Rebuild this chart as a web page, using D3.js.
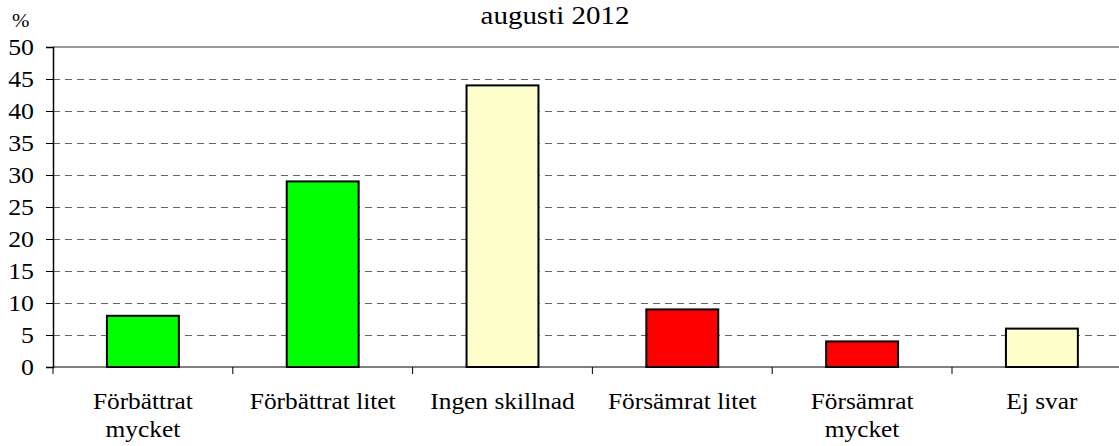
<!DOCTYPE html>
<html>
<head>
<meta charset="utf-8">
<script src="https://cdn.jsdelivr.net/npm/d3@7"></script>
<style>
  body { margin: 0; background: #fff; }
</style>
</head>
<body>
<div id="chart"></div>
<script>
var categories = [["Förbättrat", "mycket"], ["Förbättrat litet"], ["Ingen skillnad"], ["Försämrat litet"], ["Försämrat", "mycket"], ["Ej svar"]];
var values = [8, 29, 44, 9, 4, 6];
var colors = ["#00ff00", "#00ff00", "#ffffcc", "#ff0000", "#ff0000", "#ffffcc"];
var yTicks = [0, 5, 10, 15, 20, 25, 30, 35, 40, 45, 50];

var font = "Liberation Serif";
var sx = 1.08; // the original text is a bit wider than it is tall

function drawChart() {
    var width = 1119, height = 446;
    var plotLeft = 53, plotTop = 47, plotBottom = 367, bandW = 179.8;

    var svg = d3.select("#chart")
        .append("svg")
        .attr("width", width)
        .attr("height", height)
        .attr("font-family", font);

    var x = d3.scaleBand()
        .domain(d3.range(categories.length))
        .range([plotLeft, plotLeft + bandW * categories.length])
        .paddingInner(0.6)
        .paddingOuter(0.3);

    var y = d3.scaleLinear()
        .domain([0, 50])
        .range([plotBottom, plotTop]);

    // gridlines
    svg.selectAll(".grid")
        .data(yTicks.filter(function(d) { return d > 0 && d < 50; }))
        .enter()
        .append("line")
        .attr("x1", plotLeft)
        .attr("x2", width)
        .attr("y1", function(d) { return y(d) + 0.5; })
        .attr("y2", function(d) { return y(d) + 0.5; })
        .attr("stroke", "#666")
        .attr("stroke-width", 1)
        .attr("stroke-dasharray", "7,5");

    svg.append("line")
        .attr("x1", plotLeft).attr("x2", width)
        .attr("y1", y(50)).attr("y2", y(50))
        .attr("stroke", "#999")
        .attr("stroke-width", 2);

    // bars
    svg.selectAll(".bar")
        .data(values)
        .enter()
        .append("rect")
        .attr("x", function(d, i) { return x(i); })
        .attr("y", function(d) { return y(d); })
        .attr("width", x.bandwidth())
        .attr("height", function(d) { return y(0) - y(d); })
        .attr("fill", function(d, i) { return colors[i]; })
        .attr("stroke", "#000")
        .attr("stroke-width", 2);

    // y axis
    var yAxis = d3.axisLeft(y).tickValues(yTicks).tickSize(7).tickPadding(12);
    var gy = svg.append("g").attr("transform", "translate(" + plotLeft + ",0)").call(yAxis);
    gy.attr("font-family", font).attr("font-size", null);
    gy.select(".domain").attr("stroke", "#000").attr("stroke-width", 1.5);
    gy.selectAll(".tick line").attr("stroke", "#000");
    gy.selectAll(".tick text")
        .attr("x", -19 / 1.1)
        .attr("dy", "0.33em")
        .attr("transform", "scale(1.1,1)")
        .attr("font-family", font)
        .attr("font-size", "23.5px")
        .attr("fill", "#000");

    // x axis
    svg.append("line")
        .attr("x1", plotLeft).attr("x2", width)
        .attr("y1", plotBottom).attr("y2", plotBottom)
        .attr("stroke", "#000")
        .attr("stroke-width", 1);

    svg.selectAll(".xtick")
        .data(d3.range(categories.length + 1))
        .enter()
        .append("line")
        .attr("x1", function(d) { return plotLeft + d * bandW; })
        .attr("x2", function(d) { return plotLeft + d * bandW; })
        .attr("y1", plotBottom)
        .attr("y2", plotBottom + 7)
        .attr("stroke", "#000");

    var labels = svg.selectAll(".xlabel")
        .data(categories)
        .enter()
        .append("text")
        .attr("transform", function(d, i) {
            return "translate(" + (x(i) + x.bandwidth() / 2) + ",409) scale(" + sx + ",1)";
        })
        .attr("text-anchor", "middle")
        .attr("font-family", font)
        .attr("font-size", "23.5px");

    labels.selectAll("tspan")
        .data(function(d) { return d; })
        .enter()
        .append("tspan")
        .attr("x", 0)
        .attr("dy", function(d, i) { return i === 0 ? 0 : 28; })
        .text(function(d) { return d; });

    // title and unit
    svg.append("text")
        .attr("transform", "translate(555,24) scale(1.16,1)")
        .attr("text-anchor", "middle")
        .attr("font-family", font)
        .attr("font-size", "25px")
        .text("augusti 2012");

    svg.append("text")
        .attr("transform", "translate(12,27) scale(1.1,1)")
        .attr("font-family", font)
        .attr("font-size", "19px")
        .text("%");
}

drawChart();
</script>
</body>
</html>
